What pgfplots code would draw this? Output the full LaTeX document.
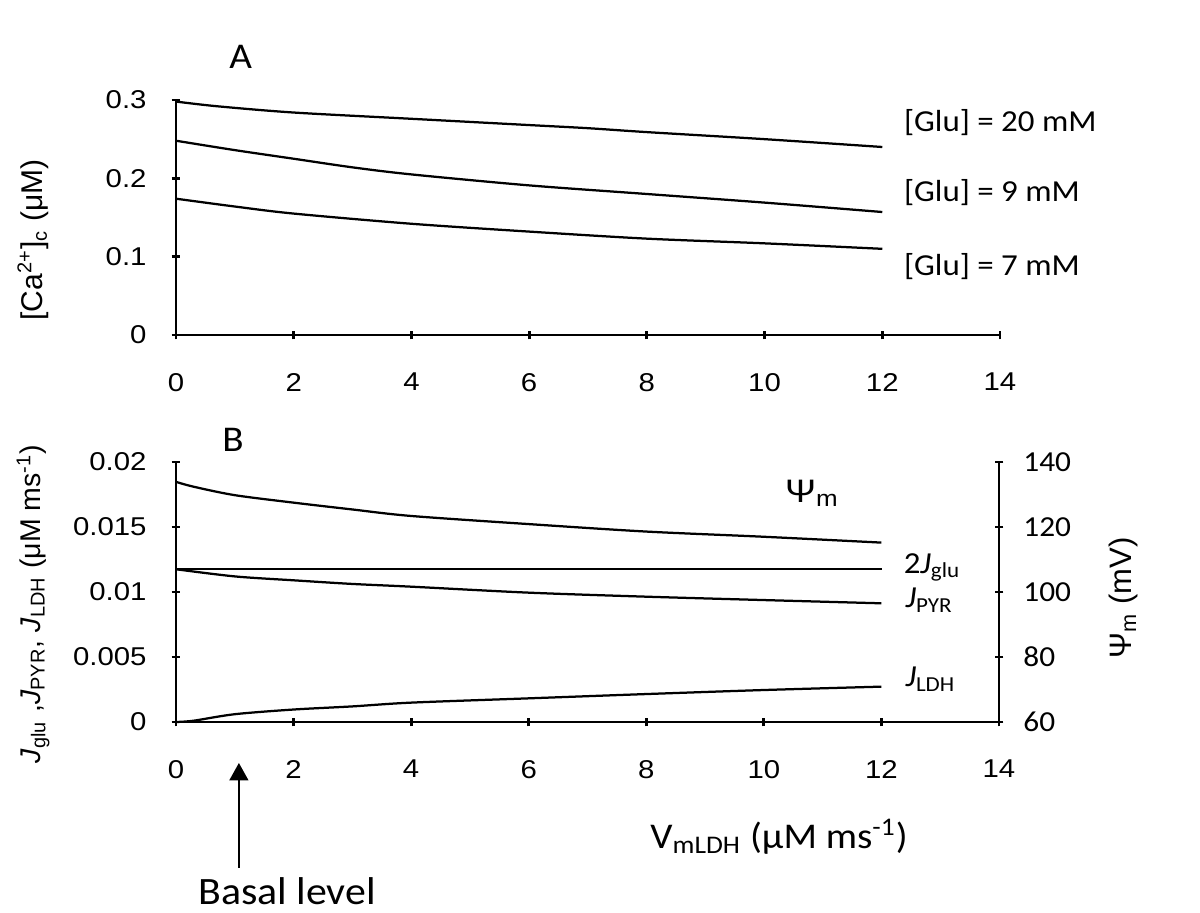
\documentclass[border=0pt]{standalone}
\usepackage{fontspec}
\setmainfont{Carlito}
\newfontfamily\carS[FakeStretch=1.08]{Carlito}
\newfontfamily\arial{Liberation Sans}
\newfontfamily\arialS[FakeStretch=1.14]{Liberation Sans}
\usepackage{pgfplots}
\pgfplotsset{compat=1.18}
\usetikzlibrary{arrows.meta}

\pgfplotstableread{
x y
0 0.298
0.7 0.292
2 0.284
4 0.276
6 0.268
7 0.264
8 0.259
10 0.250
12 0.240
}\gluTwenty
\pgfplotstableread{
x y
0 0.248
1 0.236
2 0.225
3 0.214
4 0.205
6 0.191
8 0.180
10 0.169
12 0.157
}\gluNine
\pgfplotstableread{
x y
0 0.174
1 0.164
2 0.155
4 0.142
6 0.132
8 0.123
10 0.117
12 0.110
}\gluSeven
\pgfplotstableread{
x y
0 133.9
0.3 132.4
1 129.8
2 127.5
3 125.4
4 123.4
6 120.9
8 118.6
10 117.0
12 115.2
}\psim
\pgfplotstableread{
x y
0 0.01175
1 0.01120
2 0.01090
3 0.01062
4 0.01041
6 0.00995
8 0.00964
10 0.00938
12 0.00913
}\jpyr
\pgfplotstableread{
x y
0 0
0.3 0.0001
1 0.00060
2 0.00096
3 0.00120
4 0.00149
6 0.00182
8 0.00215
10 0.00246
12 0.00272
}\jldh
\pgfplotstableread{
x y
0 0.01175
12 0.01175
}\jglu

\begin{document}
\begin{tikzpicture}
\path[use as bounding box] (0pt,0pt) rectangle (480pt,364.8pt);
\pgfplotsset{
  common/.style={
    scale only axis, clip=false,
    xmin=0, xmax=14,
    xtick={0,2,...,14}, xticklabels={0,2,4,6,8,10,12,14},
    scaled y ticks=false,
    tick align=inside,
    major tick length=3.5pt,
    tick style={line width=1.1pt, black},
    tick label style={font=\arialS\fontsize{10.3}{12}\selectfont},
    xticklabel style={yshift=-10pt},
  },
  nolinearrows/.style={
    axis line style={line width=1.1pt,-},
    every outer x axis line/.append style={-},
    every outer y axis line/.append style={-},
    every inner x axis line/.append style={-},
    every inner y axis line/.append style={-},
  },
  curve/.style={black, line width=0.9pt, no marks, smooth},
}
% Panel A
\begin{axis}[common,
  at={(70.4pt,230.8pt)}, anchor=south west,
  width=329.6pt, height=94pt,
  ymin=0, ymax=0.3,
  axis x line=bottom, axis y line=left, nolinearrows,
  ytick={0,0.1,0.2,0.3}, yticklabels={0,0.1,0.2,0.3},
  yticklabel style={xshift=-6.5pt},
]
\addplot[curve] table {\gluTwenty};
\addplot[curve] table {\gluNine};
\addplot[curve] table {\gluSeven};
\node[anchor=west, font=\carS\fontsize{12.2}{14}\selectfont] at (axis cs:12.22,0.2706) {[Glu] = 20 mM};
\node[anchor=west, font=\carS\fontsize{12.2}{14}\selectfont] at (axis cs:12.22,0.1813) {[Glu] = 9 mM};
\node[anchor=west, font=\carS\fontsize{12.2}{14}\selectfont] at (axis cs:12.22,0.0868) {[Glu] = 7 mM};
\node[font=\carS\fontsize{14.5}{17}\selectfont] at (axis cs:1.10,0.355) {A};
\node[rotate=90, font=\arial\fontsize{12}{15}\selectfont] at (axis cs:-2.43,0.1213) {[Ca\textsuperscript{2+}]\textsubscript{c} (μM)};
\end{axis}
% Panel B left
\begin{axis}[common,
  at={(70.4pt,76pt)}, anchor=south west,
  width=329.2pt, height=104pt,
  ymin=0, ymax=0.02,
  axis x line=bottom, axis y line=left, nolinearrows,
  ytick={0,0.005,0.01,0.015,0.02}, yticklabels={0,0.005,0.01,0.015,0.02},
  yticklabel style={xshift=-6.5pt},
]
\addplot[curve] table {\jglu};
\addplot[curve] table {\jpyr};
\addplot[curve] table {\jldh};
\node[anchor=base west, font=\carS\fontsize{12.2}{14}\selectfont] at (axis cs:12.23,0.01144) {2\textit{J}\textsubscript{glu}};
\node[anchor=base west, font=\carS\fontsize{12.2}{14}\selectfont] at (axis cs:12.26,0.00877) {\textit{J}\textsubscript{PYR}};
\node[anchor=base west, font=\carS\fontsize{12.2}{14}\selectfont] at (axis cs:12.26,0.00272) {\textit{J}\textsubscript{LDH}};
\node[anchor=base, font=\arialS\fontsize{13}{15}\selectfont] at (axis cs:10.82,0.01692) {Ψ\textsubscript{m}};
\node[font=\carS\fontsize{14.5}{17}\selectfont] at (axis cs:0.97,0.02169) {B};
\node[anchor=base, font=\carS\fontsize{14.5}{17}\selectfont] at (axis cs:10.26,-0.00972) {V\textsubscript{mLDH} (μM ms\textsuperscript{-1})};
\node[anchor=base, font=\carS\fontsize{15.5}{18}\selectfont] at (axis cs:1.89,-0.01405) {Basal level};
\draw[line width=1pt, -{Triangle[width=7.5pt,length=7pt]}] (axis cs:1.07,-0.01123) -- (axis cs:1.07,-0.00315);
\node[rotate=90, font=\arial\fontsize{11.4}{14}\selectfont] at (axis cs:-2.43,0.00908) {\textit{J}\textsubscript{glu} ,\textit{J}\textsubscript{PYR}, \textit{J}\textsubscript{LDH} (μM ms\textsuperscript{-1})};
\node[rotate=90, font=\arial\fontsize{12.4}{15}\selectfont] at (axis cs:16.12,0.00954) {Ψ\textsubscript{m} (mV)};
\end{axis}
% Panel B right
\begin{axis}[common,
  at={(70.4pt,76pt)}, anchor=south west,
  width=329.2pt, height=104pt,
  ymin=60, ymax=140,
  axis x line=none, axis y line=right, nolinearrows,
  ytick={60,80,100,120,140}, yticklabels={60,80,100,120,140},
  yticklabel style={xshift=4.5pt, font=\carS\fontsize{11.6}{14}\selectfont},
]
\addplot[curve] table {\psim};
\end{axis}
\end{tikzpicture}
\end{document}
